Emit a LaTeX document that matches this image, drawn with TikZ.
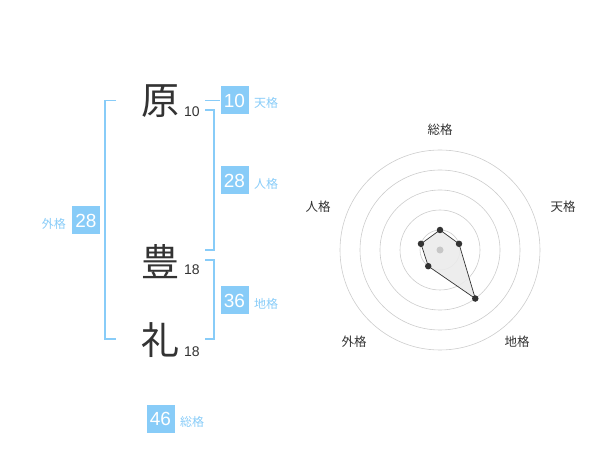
\documentclass[tikz,border=0pt]{standalone}
\usepackage{fontspec}
\setmainfont{Liberation Sans}
\newfontfamily\jp{Noto Sans CJK JP}
\definecolor{sky}{HTML}{88CCF8}
\definecolor{ink}{HTML}{333333}
\definecolor{ring}{HTML}{CCCCCC}
\begin{document}
\begin{tikzpicture}[x=1pt,y=-1pt,
  kanji/.style={font=\jp\fontsize{38}{38}\selectfont,text=ink,inner sep=0pt},
  stroke/.style={font=\fontsize{14}{14}\selectfont,text=ink,inner sep=0pt},
  valbox/.style={fill=sky,text=white,minimum width=28,minimum height=28,inner sep=0pt,font=\fontsize{19}{19}\selectfont},
  kaku/.style={text=sky,font=\jp\fontsize{12}{12}\selectfont,inner sep=0pt},
  brk/.style={draw=sky,line width=1.3pt},
  axlab/.style={text=ink,font=\jp\fontsize{12.5}{12.5}\selectfont,inner sep=0pt},
  dot/.style={circle,fill=ink,inner sep=0pt,minimum size=6.5}]
\useasboundingbox (0,0) rectangle (600,470);
% names
\node[kanji] (k1) at (160,101) {原};
\node[kanji] (k2) at (160,262) {豊};
\node[kanji] (k3) at (160,340) {礼};
\node[stroke] (s1) at (192,112) {10};
\node[stroke] (s2) at (192,270) {18};
\node[stroke] (s3) at (192,352) {18};
% boxes
\node[valbox] (ten) at (234.5,100.5) {10};
\node[kaku,anchor=west] (tenl) at (254,103) {天格};
\node[valbox] (jin) at (234.5,180.5) {28};
\node[kaku,anchor=west] (jinl) at (254,184) {人格};
\node[valbox] (chi) at (234.5,300.5) {36};
\node[kaku,anchor=west] (chil) at (254,304) {地格};
\node[valbox] (gai) at (86,220.5) {28};
\node[kaku,anchor=east] (gail) at (66,224) {外格};
\node[valbox] (sou) at (160.5,419) {46};
\node[kaku,anchor=west] (soul) at (180,421.5) {総格};
% brackets
\coordinate (tn) at (205,100.5);
\draw[brk] (116,100.5) -- (105,100.5) -- (105,339) -- (116,339);
\draw[brk] (tn) -- (ten.west);
\draw[brk] (205,110) -- (214,110) -- (214,250) -- (205,250);
\draw[brk] (205,260) -- (214,260) -- (214,339) -- (205,339);
% radar
\coordinate (c) at (440,250);
\foreach \r in {20,40,60,80,100} \draw[ring,line width=0.6pt] (c) circle[radius=\r];
\path (440,250) ++(19.02,-6.18) coordinate (pT)
      (440,250) ++(35.27,48.54) coordinate (pC)
      (440,250) ++(-11.76,16.18) coordinate (pG)
      (440,250) ++(-19.02,-6.18) coordinate (pJ)
      (440,250) ++(0,-20) coordinate (pS);
\fill[black!8,opacity=0.9] (pS) -- (pT) -- (pC) -- (pG) -- (pJ) -- cycle;
\draw[ink,line width=0.7pt] (pS) -- (pT) -- (pC) -- (pG) -- (pJ) -- cycle;
\node[circle,fill=black!22,inner sep=0pt,minimum size=7] (cd) at (c) {};
\foreach \p in {pS,pT,pC,pG,pJ} \node[dot] at (\p) {};
\node[axlab] (aS) at (440,130) {総格};
\node[axlab] (aT) at (563,207) {天格};
\node[axlab] (aC) at (517,342) {地格};
\node[axlab] (aG) at (354,342) {外格};
\node[axlab] (aJ) at (318,207) {人格};
\end{tikzpicture}
\end{document}
